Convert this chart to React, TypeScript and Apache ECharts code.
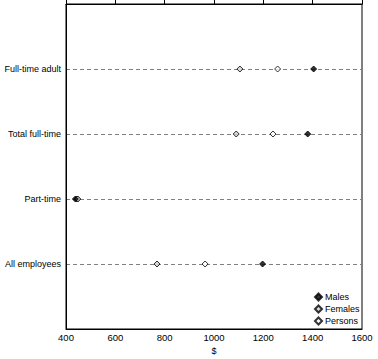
import React, { useEffect, useRef } from "react";
import * as echarts from "echarts";

const categories = ["", "Full-time adult", "Total full-time", "Part-time", "All employees", ""];
const males = [1404, 1380, 438, 1197];
const females = [1105, 1090, 448, 769];
const persons = [1258, 1239, 445, 964];
const xTicks = [400, 600, 800, 1000, 1200, 1400, 1600];

const font = "Liberation Sans, Arial, sans-serif";

export default function App() {
  const ref = useRef<HTMLDivElement>(null);
  useEffect(() => {
    const chart = echarts.init(ref.current!, undefined, { renderer: "svg" });
    const mk = (vals: number[]) => vals.map((v, i) => [v, categories[i + 1]]);
    chart.setOption({
      animation: false,
      grid: {
        left: 66,
        right: 16,
        top: 4,
        bottom: 30,
        show: true,
        borderColor: "#000",
        borderWidth: 1,
        containLabel: false,
        outerBoundsMode: "none",
      },
      legend: {
        orient: "vertical",
        left: 309,
        top: 286,
        itemWidth: 7,
        itemHeight: 7,
        itemGap: 0,
        icon: "diamond",
        textStyle: { fontFamily: font, fontSize: 9, lineHeight: 12, color: "#000", padding: [0, 0, 0, -2] },
        data: ["Males", "Females", "Persons"],
      },
      xAxis: [
        {
          type: "value",
          min: xTicks[0],
          max: xTicks[xTicks.length - 1],
          interval: 200,
          position: "bottom",
          name: "$",
          nameLocation: "middle",
          nameGap: 17,
          nameTextStyle: { fontFamily: font, fontSize: 9, color: "#000" },
          axisLine: { show: true, lineStyle: { color: "#000" } },
          axisTick: { show: false },
          splitLine: { show: false },
          axisLabel: { fontFamily: font, fontSize: 9.5, color: "#000", margin: 3, formatter: (v: number) => String(v) },
        },
        {
          type: "value",
          min: xTicks[0],
          max: xTicks[xTicks.length - 1],
          interval: 200,
          position: "top",
          axisLine: { show: true, lineStyle: { color: "#000" } },
          axisTick: { show: true, inside: false, length: 4, lineStyle: { color: "#000" } },
          axisLabel: { show: false },
          splitLine: { show: false },
        },
      ],
      yAxis: {
        type: "category",
        data: categories,
        inverse: true,
        boundaryGap: false,
        axisLine: { show: true, lineStyle: { color: "#000" } },
        axisTick: { show: false },
        axisLabel: { fontFamily: font, fontSize: 9, color: "#000", margin: 5 },
        splitLine: {
          show: true,
          interval: (i: number) => i > 0 && i < categories.length - 1,
          lineStyle: { color: "#808080", type: [4, 3], width: 1 },
        },
      },
      series: [
        {
          name: "Persons",
          type: "scatter",
          symbol: "diamond",
          symbolSize: 6,
          itemStyle: { color: "#fff", borderColor: "#000", borderWidth: 1 },
          data: mk(persons),
          z: 3,
        },
        {
          name: "Females",
          type: "scatter",
          symbol: "diamond",
          symbolSize: 6,
          itemStyle: { color: "#d0d0d0", borderColor: "#000", borderWidth: 1 },
          data: mk(females),
          z: 4,
        },
        {
          name: "Males",
          type: "scatter",
          symbol: "diamond",
          symbolSize: 6,
          itemStyle: { color: "#000", borderColor: "#000", borderWidth: 1 },
          data: mk(males),
          z: 5,
        },
      ],
    });
    return () => chart.dispose();
  }, []);
  return <div ref={ref} style={{ width: 378, height: 359, position: "absolute", left: 0, top: 0 }} />;
}
